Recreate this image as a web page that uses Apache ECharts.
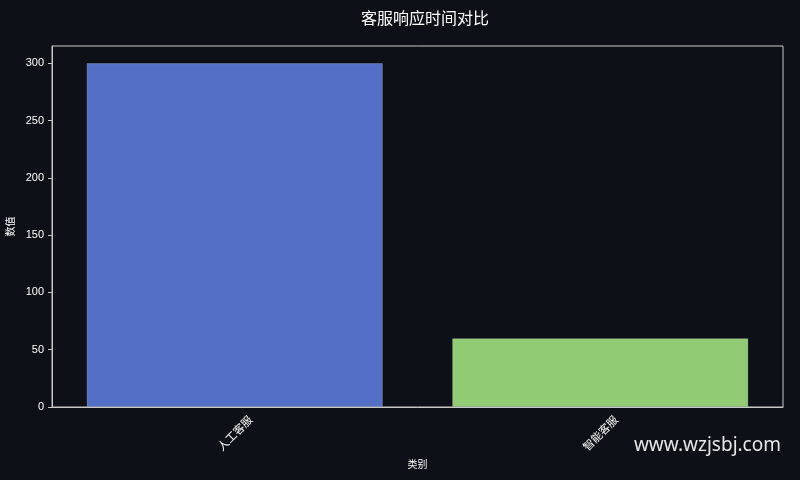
<!DOCTYPE html>
<html>
<head>
<meta charset="utf-8">
<script src="https://cdn.jsdelivr.net/npm/echarts@6/dist/echarts.min.js"></script>
<style>
  html, body { margin: 0; padding: 0; background: #0d1017; }
  #chart { width: 800px; height: 480px; }
</style>
</head>
<body>
<div id="chart"></div>
<script>
  // data
  var categories = ['人工客服', '智能客服'];
  var values = [300, 60];
  var barColors = ['#5470c6', '#91cc75'];
  var yTicks = [0, 50, 100, 150, 200, 250, 300];

  var font = '"Liberation Sans", Arial, sans-serif';
  var cjk = '"Noto Sans CJK SC", sans-serif';

  var myChart = echarts.init(document.getElementById('chart'), null, { renderer: 'canvas' });

  myChart.setOption({
    backgroundColor: '#0d1017',
    animation: false,
    title: {
      text: '客服响应时间对比',
      left: 420,
      top: 5,
      textAlign: 'center',
      textStyle: { color: '#ffffff', fontSize: 16, fontWeight: 'normal', fontFamily: cjk }
    },
    grid: {
      left: 52, right: 17, top: 46, bottom: 73,
      outerBoundsMode: 'none',
      containLabel: false,
      show: true, borderColor: '#c8c8c8', borderWidth: 1
    },
    xAxis: {
      type: 'category',
      data: categories,
      name: '类别',
      nameLocation: 'middle',
      nameGap: 48,
      nameTextStyle: { color: '#ffffff', fontSize: 10, fontFamily: cjk },
      axisLine: { lineStyle: { color: '#c8c8c8' } },
      axisTick: { alignWithLabel: true, length: 4, lineStyle: { color: '#c8c8c8' } },
      axisLabel: {
        rotate: 45, align: 'center', verticalAlign: 'middle', margin: 26,
        color: '#ffffff', fontSize: 11, fontFamily: cjk
      },
      splitLine: { show: false }
    },
    yAxis: {
      type: 'value',
      min: 0, max: 315, interval: 50,
      name: '数值',
      nameLocation: 'middle',
      nameGap: 25,
      nameTextStyle: { color: '#ffffff', fontSize: 10, fontFamily: cjk },
      axisLine: { show: true, lineStyle: { color: '#c8c8c8' } },
      axisTick: { show: true, length: 4, lineStyle: { color: '#c8c8c8' } },
      axisLabel: {
        showMaxLabel: false,
        color: '#ffffff', fontSize: 11, fontFamily: font,
        formatter: function (v) { return yTicks.indexOf(v) >= 0 ? String(v) : ''; }
      },
      splitLine: { show: false }
    },
    series: [{
      type: 'bar',
      barWidth: '81%',
      data: values.map(function (v, i) {
        return { value: v, itemStyle: { color: barColors[i] } };
      }),
      itemStyle: { borderColor: 'rgba(255,255,255,0.25)', borderWidth: 0.8 }
    }],
    graphic: [{
      type: 'text',
      right: 19,
      top: 436,
      style: {
        text: 'www.wzjsbj.com',
        fill: '#e6e6e6',
        fontSize: 19,
        fontFamily: '"Noto Sans", sans-serif'
      }
    }]
  });
</script>
</body>
</html>
